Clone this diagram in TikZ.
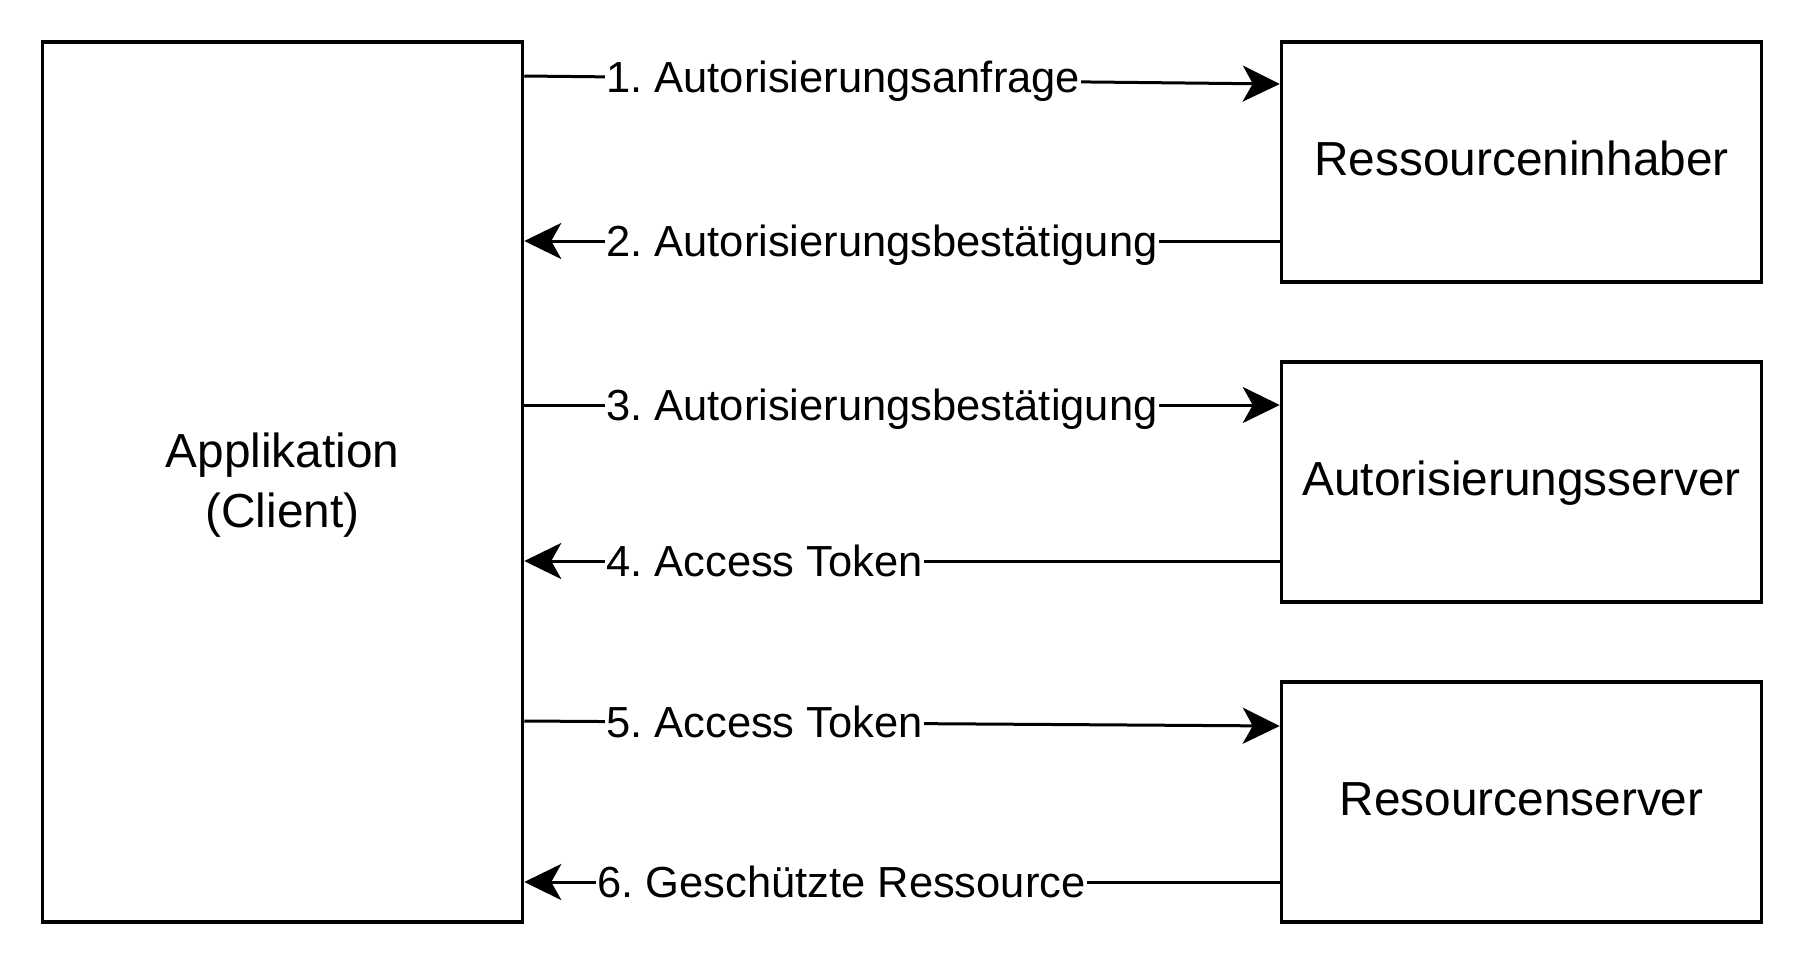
\documentclass[tikz,border=0pt]{standalone}
\usepackage{fontspec}
\setmainfont{Liberation Sans}
\usetikzlibrary{arrows.meta}
\begin{document}
\begin{tikzpicture}[x=1pt,y=-1pt,
  box/.style={draw, line width=3.5pt, minimum width=480pt, inner sep=0pt,
    font=\fontsize{47.8}{60}\selectfont\frenchspacing},
  rbox/.style={box, minimum height=240pt, text height=36pt, text depth=9.5pt},
  flow/.style={line width=3pt, -{Stealth[length=37pt,width=36pt,inset=10pt]}},
  lbl/.style={fill=white, inner sep=1pt, font=\fontsize{43.5}{52}\selectfont\frenchspacing, anchor=base west}]
\useasboundingbox (0,0) rectangle (1804,964);

\node[box, minimum height=880pt, align=center, text height=95pt, text depth=5pt] (app) at (282.5,482) {Applikation\\(Client)};
\node[rbox] (own) at (1521.5,162) {Ressourceninhaber};
\node[rbox] (auth) at (1521.5,482) {Autorisierungsserver};
\node[rbox] (res) at (1521.5,802) {Resourcenserver};

\draw[flow] (app.east |- 0,76) -- (own.west |- 0,84);
\draw[flow] (own.west |- 0,241) -- (app.east |- 0,241);
\draw[flow] (app.east |- 0,405) -- (auth.west |- 0,405);
\draw[flow] (auth.west |- 0,561) -- (app.east |- 0,561);
\draw[flow] (app.east |- 0,721) -- (res.west |- 0,726);
\draw[flow] (res.west |- 0,882) -- (app.east |- 0,882);

\node[lbl] (l1) at (605,92.5) {1. Autorisierungsanfrage};
\node[lbl] (l2) at (605,256.5) {2. Autorisierungsbestätigung};
\node[lbl] (l3) at (605,420.5) {3. Autorisierungsbestätigung};
\node[lbl] (l4) at (605,576.5) {4. Access Token};
\node[lbl] (l5) at (605,737.5) {5. Access Token};
\node[lbl] (l6) at (596,897.5) {6. Geschützte Ressource};
\end{tikzpicture}
\end{document}
